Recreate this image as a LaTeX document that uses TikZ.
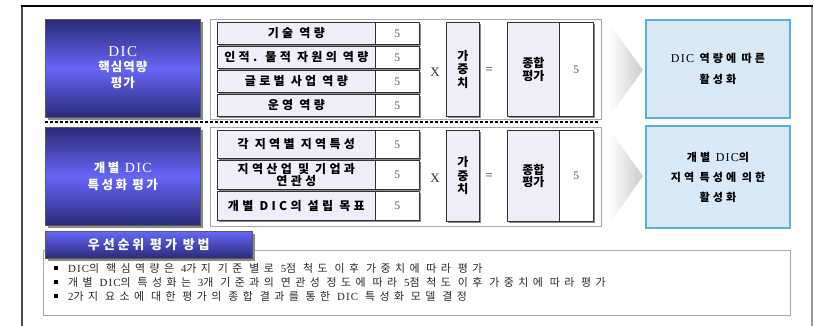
\documentclass[tikz,border=0pt]{standalone}
\usepackage{fontspec}
\setmainfont{Liberation Serif}
\newfontfamily\kr{Noto Sans CJK KR}
\newfontfamily\krrow{Noto Sans CJK KR}[LetterSpace=28]
\newfontfamily\krbox{Noto Sans CJK KR}[LetterSpace=8]
\newfontfamily\krboxb{Noto Sans CJK KR}[LetterSpace=20]
\newfontfamily\krtitle{Noto Sans CJK KR}[LetterSpace=22]
\newfontfamily\krsky{Noto Sans CJK KR}[LetterSpace=28]
\newfontfamily\krbul{Noto Sans CJK KR}[LetterSpace=41]
\newfontfamily\latin{Liberation Serif}
\newfontfamily\latinsp{Liberation Serif}[LetterSpace=10]
\definecolor{navyd}{HTML}{2A2A78}
\definecolor{navyl}{HTML}{6666F8}
\definecolor{lav}{HTML}{EEEEF8}
\definecolor{skyfill}{HTML}{D9E8F5}
\definecolor{skyline}{HTML}{5AAEE0}
\definecolor{shadowc}{HTML}{8A8A8A}
\tikzset{
  navybox/.style={draw=gray!70!black, line width=0.6pt, top color=navyd, bottom color=navyd, middle color=navyl, inner sep=0pt, anchor=north west},
  titlebox/.style={draw=gray!70!black, line width=0.6pt, top color=navyl, bottom color=navyd, inner sep=0pt, anchor=north west},
  groupbox/.style={draw=gray!70, line width=0.8pt, fill=white, inner sep=0pt, anchor=north west},
  rowcell/.style={draw=black!80, line width=0.7pt, fill=lav, inner sep=0pt, anchor=north west, font=\krrow\bfseries\fontsize{12}{12}\selectfont, align=center},
  numcell/.style={draw=black!80, line width=0.7pt, fill=white, inner sep=0pt, anchor=north west, font=\latin\fontsize{11.5}{11.5}\selectfont, text=black!65},
  skybox/.style={draw=skyline, line width=2pt, fill=skyfill, inner sep=0pt, anchor=north west, align=center},
  whitetxt/.style={text=white, align=center},
  sym/.style={font=\latin\fontsize{13}{13}\selectfont, text=black!80},
  bul/.style={anchor=west, font=\krbul\fontsize{10.9}{11}\selectfont, inner sep=0pt, text=black!85},
  bulmark/.style={fill=black, minimum size=3.5pt, inner sep=0pt},
}
\begin{document}
\begin{tikzpicture}[x=1pt,y=-1pt]
\useasboundingbox (0,0) rectangle (814,326);
% outer frame
\coordinate (fTL) at (22,6);
\coordinate (fTR) at (812,6);
\coordinate (fBL) at (22,330);
\coordinate (fBR) at (812,330);
\draw[gray!60!black, line width=1.3pt] (fTL) -- (fBL);
\draw[gray!80, line width=2pt] (fTR) -- (fBR);
\draw[black, line width=1.2pt] ([xshift=-0.6pt]fTL) -- ([xshift=1pt]fTR);

% ---------- section 1 ----------
\fill[shadowc] (48,22) rectangle (203,120);
\node[navybox, minimum width=155pt, minimum height=98pt] (b1) at (45,19) {};
\node[whitetxt, font=\bfseries\fontsize{12.5}{15.5}\selectfont] (b1t) at ([yshift=1pt]b1.center) {{\latinsp\mdseries\fontsize{15}{15.5}\selectfont DIC}\\{\krbox 핵심역량}\\{\krbox 평가}};

\node[groupbox, minimum width=391pt, minimum height=100pt] (g1) at (210,19) {};

\foreach \i/\y/\t in {1/22/기술 역량, 2/46/인적. 물적 자원의 역량, 3/70/글로벌 사업 역량, 4/94/운영 역량}{
  \fill[shadowc] (219,\y+2) rectangle (421,\y+24);
  \node[rowcell, minimum width=158pt, minimum height=22pt] (a\i) at (217,\y) {\t};
  \node[numcell, minimum width=44pt, minimum height=22pt] (an\i) at (375,\y) {5};
}
\node[sym] (x1) at (435,72) {X};
\fill[shadowc] (448,24) rectangle (481,118);
\node[rowcell, minimum width=33pt, minimum height=94pt, font=\kr\bfseries\fontsize{12}{13.5}\selectfont] (w1) at (446,22) {가\\중\\치};
\node[sym] (e1) at (489,71) {=};
\fill[shadowc] (509,24) rectangle (595,118);
\node[rowcell, minimum width=52pt, minimum height=94pt, font=\kr\bfseries\fontsize{12}{12.5}\selectfont] (s1) at (507,22) {종합\\평가};
\node[numcell, minimum width=34pt, minimum height=94pt] (sn1) at (559,22) {5};

\shade[left color=white, right color=gray!40] (608,22) -- (643,70) -- (608,118) -- cycle;
\node[skybox, minimum width=144pt, minimum height=98pt, font=\krsky\bfseries\fontsize{11}{21}\selectfont] (r1) at (645,19) {{\latinsp\mdseries\fontsize{12}{21}\selectfont DIC} 역량에 따른\\활성화};

% dashed separator
\coordinate (d1) at (45,122);
\coordinate (d2) at (598,122);
\draw[black, line width=1.5pt, dash pattern=on 3pt off 2pt] (d1) -- (d2);

% ---------- section 2 ----------
\fill[shadowc] (48,130) rectangle (203,228);
\node[navybox, minimum width=155pt, minimum height=98pt] (b2) at (45,127) {};
\node[whitetxt, font=\krboxb\bfseries\fontsize{12.5}{17}\selectfont] (b2t) at (b2.center) {개별 {\latinsp\mdseries\fontsize{14}{17}\selectfont DIC}\\특성화 평가};

\node[groupbox, minimum width=391pt, minimum height=99pt] (g2) at (210,127) {};

\foreach \i/\y/\h/\t in {1/130/28/각 지역별 지역특성, 2/160/29/{지역산업 및 기업과\\[0.5pt]연관성}, 3/191/29/개별 DIC의 설립 목표}{
  \fill[shadowc] (219,\y+2) rectangle (421,\y+\h+2);
  \node[rowcell, minimum width=158pt, minimum height=\h pt] (c\i) at (217,\y) {\t};
  \node[numcell, minimum width=44pt, minimum height=\h pt] (cn\i) at (375,\y) {5};
}
\node[sym] (x2) at (435,178) {X};
\fill[shadowc] (448,132) rectangle (481,223);
\node[rowcell, minimum width=33pt, minimum height=91pt, font=\kr\bfseries\fontsize{12}{13.5}\selectfont] (w2) at (446,130) {가\\중\\치};
\node[sym] (e2) at (489,177) {=};
\fill[shadowc] (509,132) rectangle (595,223);
\node[rowcell, minimum width=52pt, minimum height=91pt, font=\kr\bfseries\fontsize{12}{12.5}\selectfont] (s2) at (507,130) {종합\\평가};
\node[numcell, minimum width=34pt, minimum height=91pt] (sn2) at (559,130) {5};

\shade[left color=white, right color=gray!40] (608,128) -- (643,176) -- (608,226) -- cycle;
\node[skybox, minimum width=144pt, minimum height=102pt, font=\krsky\bfseries\fontsize{11}{20}\selectfont] (r2) at (645,125) {개별 {\latinsp\mdseries\fontsize{12}{20}\selectfont DIC}의\\지역 특성에 의한\\활성화};

% ---------- notes ----------
\node[draw=gray!70, line width=0.8pt, fill=white, minimum width=747pt, minimum height=65pt, anchor=north west] (notes) at (43,250) {};
\fill[shadowc] (48,234) rectangle (255,261);
\node[titlebox, minimum width=207pt, minimum height=27pt] (tb) at (45,231) {};
\node[whitetxt, font=\krtitle\bfseries\fontsize{13}{13}\selectfont] (tbt) at (tb.center) {우선순위 평가 방법};

\node[bulmark] (m1) at (56,268) {};
\node[bulmark] (m2) at (56,282) {};
\node[bulmark] (m3) at (56,296) {};
\node[bul] (t1) at (68,268) {{\latinsp DIC}의 핵심역량은 {\latin 4}가지 기준 별로 {\latin 5}점 척도 이후 가중치에 따라 평가};
\node[bul] (t2) at (68,282) {개별 {\latinsp DIC}의 특성화는 {\latin 3}개 기준과의 연관성 정도에 따라 {\latin 5}점 척도 이후 가중치에 따라 평가};
\node[bul] (t3) at (68,296) {{\latin 2}가지 요소에 대한 평가의 종합 결과를 통한 {\latinsp DIC} 특성화 모델 결정};
\end{tikzpicture}
\end{document}
